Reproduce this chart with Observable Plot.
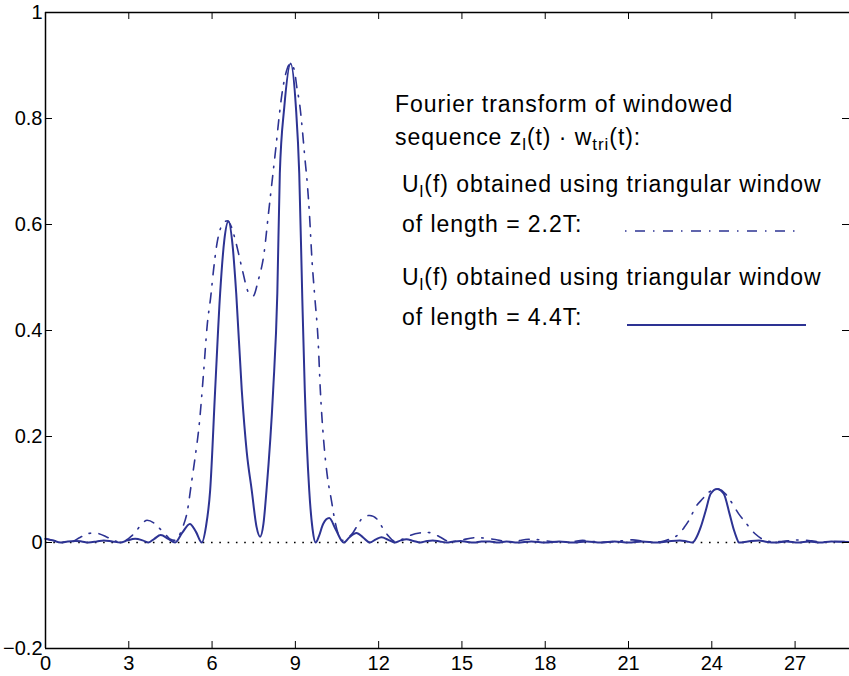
<!DOCTYPE html>
<html><head><meta charset="utf-8">
<script src="https://cdn.jsdelivr.net/npm/d3@7"></script>
<script src="https://cdn.jsdelivr.net/npm/@observablehq/plot@0.6"></script>
<style>
html,body{margin:0;padding:0;background:#fff;overflow:hidden;}
svg{overflow:hidden;display:block;}
</style>
</head><body><div id="chart"></div>
<script>
// U_l(f), triangular window of length 4.4T (solid)
const f44 = [0,0.25,0.55,0.8,1.08,1.3,1.55,1.85,2.1,2.4,2.7,2.95,3.23,3.5,3.71,3.92,4.15,4.42,4.67,4.92,5.2,5.42,5.63,5.78,5.93,6.11,6.29,6.44,6.59,6.74,6.87,7.07,7.25,7.43,7.6,7.73,7.85,7.96,8.2,8.35,8.44,8.6,8.83,9.02,9.14,9.25,9.34,9.5,9.62,9.73,9.85,10.0,10.22,10.45,10.74,10.95,11.2,11.45,11.68,11.9,12.1,12.35,12.58,12.8,13.0,13.25,13.5,13.75,13.95,14.2,14.45,14.7,14.95,15.2,15.45,15.7,16.0,16.3,16.6,17.0,17.5,18.0,18.5,19.0,19.5,20.0,20.5,21.0,21.5,22.0,22.4,22.85,23.1,23.3,23.45,23.6,23.78,23.96,24.19,24.43,24.64,24.8,24.9,24.97,25.3,25.69,26.0,26.3,26.7,27.1,27.5,27.9,28.3,28.96];
const u44 = [0.007,0.004,0.0,0.002,0.003,0.002,0.0,0.002,0.004,0.002,0.0,0.004,0.007,0.004,0.0,0.007,0.014,0.007,0.0,0.018,0.035,0.02,0.0,0.03,0.098,0.287,0.47,0.57,0.606,0.56,0.47,0.287,0.17,0.098,0.03,0.011,0.035,0.098,0.287,0.47,0.696,0.821,0.904,0.821,0.696,0.46,0.287,0.098,0.025,0.0,0.012,0.035,0.046,0.025,0.0,0.01,0.018,0.009,0.0,0.006,0.01,0.005,0.0,0.004,0.006,0.003,0.0,0.003,0.004,0.002,0.0,0.002,0.003,0.001,0.0,0.002,0.002,0.0,0.002,0.0,0.002,0.0,0.002,0.0,0.002,0.0,0.002,0.0,0.002,0.0,0.002,0.004,0.002,0.0,0.01,0.029,0.06,0.092,0.101,0.092,0.054,0.023,0.008,0.0,0.002,0.004,0.001,0.0,0.002,0.0,0.002,0.0,0.002,0.001];

// U_l(f), triangular window of length 2.2T (dash-dot)
const f22 = [0,0.4,0.85,1.26,1.55,1.75,1.9,2.22,2.5,2.75,3.0,3.23,3.45,3.66,3.9,4.1,4.31,4.5,4.65,4.8,4.95,5.09,5.27,5.39,5.54,5.69,5.83,5.95,6.05,6.17,6.35,6.55,6.7,6.85,7.07,7.31,7.48,7.66,7.87,8.03,8.18,8.3,8.4,8.5,8.6,8.7,8.83,8.97,9.05,9.16,9.26,9.34,9.43,9.5,9.6,9.7,9.82,9.9,10.02,10.14,10.3,10.42,10.55,10.68,10.85,11.08,11.3,11.44,11.68,11.98,12.15,12.34,12.6,12.85,13.12,13.47,13.77,14.0,14.19,14.6,15.0,15.5,15.9,16.35,16.7,17.0,17.4,17.8,18.2,18.6,19.0,19.35,19.7,20.2,20.7,21.15,21.5,21.9,22.2,22.5,22.82,23.0,23.18,23.42,23.66,23.9,24.19,24.49,24.67,24.97,25.21,25.57,25.8,26.1,26.5,26.9,27.25,27.6,28.0,28.5,28.96];
const u22 = [0.007,0.003,0.0,0.01,0.017,0.018,0.017,0.01,0.003,0.0,0.008,0.019,0.034,0.042,0.037,0.027,0.016,0.006,0.004,0.012,0.03,0.054,0.117,0.161,0.224,0.318,0.413,0.463,0.513,0.562,0.598,0.607,0.595,0.568,0.519,0.472,0.465,0.494,0.545,0.62,0.69,0.746,0.796,0.84,0.872,0.893,0.904,0.89,0.86,0.825,0.774,0.727,0.677,0.626,0.532,0.463,0.381,0.287,0.192,0.13,0.079,0.042,0.015,0.004,0.008,0.019,0.038,0.048,0.051,0.042,0.027,0.013,0.002,0.006,0.013,0.018,0.019,0.016,0.011,0.001,0.005,0.009,0.008,0.004,0.001,0.003,0.006,0.005,0.002,0.001,0.002,0.004,0.002,0.001,0.003,0.005,0.003,0.001,0.002,0.007,0.016,0.028,0.042,0.067,0.082,0.095,0.101,0.092,0.079,0.054,0.038,0.016,0.007,0.002,0.002,0.004,0.005,0.003,0.001,0.002,0.002];

const xTicks = [0,3,6,9,12,15,18,21,24,27];
const xTickLabels = ["0","3","6","9","12","15","18","21","24","27"];
const yTicks = [-0.2,0,0.2,0.4,0.6,0.8,1];
const yTickLabels = ["\u22120.2","0","0.2","0.4","0.6","0.8","1"];

// legend text lines: strings are normal text, {sub} are subscripts
const legendTitle1 = ["Fourier transform of windowed"];
const legendTitle2 = ["sequence z", {sub:"l"}, "(t) \u00b7 w", {sub:"tri"}, "(t):"];
const legendA1 = ["U", {sub:"l"}, "(f) obtained using triangular window"];
const legendA2 = ["of length = 2.2T:"];
const legendB1 = ["U", {sub:"l"}, "(f) obtained using triangular window"];
const legendB2 = ["of length = 4.4T:"];

const FONT = "'Liberation Sans', Arial, Helvetica, sans-serif";
const COLOR = "#2d3393";
const DASHDOT = "10,8,1.5,8.5";

const d44 = f44.map((f, i) => ({f, u: u44[i]}));
const d22 = f22.map((f, i) => ({f, u: u22[i]}));

const W = 849, H = 676, mL = 45, mR = 0, mT = 12, mB = 28;
const frameW = W - mL - mR, frameH = H - mT - mB, TICK = 7;

const plot = Plot.plot({
  width: W, height: H, marginLeft: mL, marginRight: mR, marginTop: mT, marginBottom: mB,
  style: {fontFamily: FONT, fontSize: "20px", color: "black", background: "white"},
  x: {domain: [0, 28.96], label: null},
  y: {domain: [-0.2, 1], label: null},
  marks: [
    Plot.ruleY([0], {stroke: "black", strokeWidth: 1.6, strokeDasharray: "1.6,6.7"}),
    Plot.line(d22, {x: "f", y: "u", stroke: COLOR, strokeWidth: 1.6, strokeDasharray: DASHDOT, curve: "monotone-x"}),
    Plot.line(d44, {x: "f", y: "u", stroke: COLOR, strokeWidth: 2, curve: "monotone-x"}),
    Plot.ruleX([0], {stroke: "black", strokeWidth: 1.5}),
    Plot.ruleY([yTicks[0], yTicks[yTicks.length - 1]], {stroke: "black", strokeWidth: 1.5}),
    // inward ticks
    Plot.tickX(xTicks, {x: d => d, stroke: "black", insetTop: frameH - TICK}),
    Plot.tickX(xTicks, {x: d => d, stroke: "black", insetBottom: frameH - TICK}),
    Plot.tickY(yTicks, {y: d => d, stroke: "black", insetRight: frameW - TICK}),
    Plot.tickY(yTicks, {y: d => d, stroke: "black", insetLeft: frameW - TICK}),
    Plot.axisX({anchor: "bottom", ticks: xTicks, tickSize: 0, tickPadding: 7, tickFormat: d => xTickLabels[xTicks.indexOf(d)], label: null}),
    Plot.axisY({anchor: "left", ticks: yTicks, tickSize: 0, tickPadding: 3, tickFormat: d => yTickLabels[yTicks.indexOf(d)], label: null})
  ]
});
document.getElementById("chart").appendChild(plot);

// Legend (text with subscripts + sample lines)
const svg = d3.select(plot);
const g = svg.append("g").attr("font-family", FONT).attr("font-size", 23)
  .attr("letter-spacing", "0.95px")
  .attr("fill", "black").attr("text-anchor", "start");
function addText(x, y, parts) {
  const t = g.append("text").attr("x", x).attr("y", y).attr("text-anchor", "start");
  let shifted = false;
  parts.forEach(p => {
    if (typeof p === "string") {
      const s = t.append("tspan").text(p);
      if (shifted) { s.attr("dy", -5); shifted = false; }
    } else {
      t.append("tspan").attr("dy", 5).attr("font-size", 17).text(p.sub);
      shifted = true;
    }
  });
}
addText(395, 112, legendTitle1);
addText(395, 145, legendTitle2);
addText(402, 192, legendA1);
addText(402, 232, legendA2);
addText(402, 285, legendB1);
addText(402, 325, legendB2);
g.append("line").attr("x1", 625).attr("x2", 795).attr("y1", 231).attr("y2", 231)
  .attr("stroke", COLOR).attr("stroke-width", 1.6).attr("stroke-dasharray", "1.5,8.5,10,8");
g.append("line").attr("x1", 627).attr("x2", 806).attr("y1", 325).attr("y2", 325)
  .attr("stroke", COLOR).attr("stroke-width", 2);
</script>
</body></html>
